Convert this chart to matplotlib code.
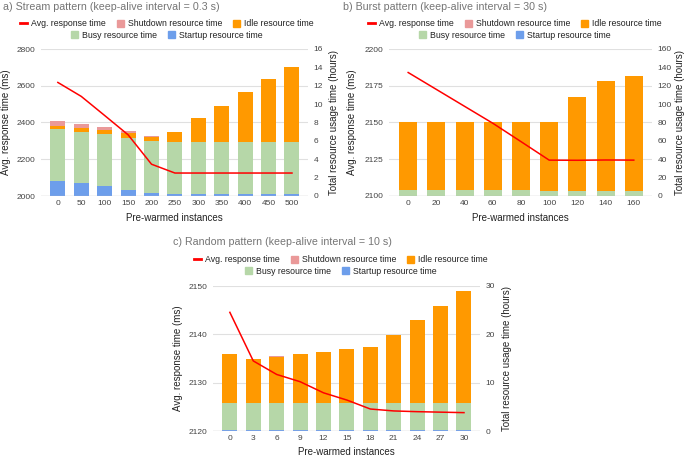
import matplotlib
matplotlib.use("Agg")
import matplotlib.pyplot as plt
from matplotlib.patches import Patch
from matplotlib.lines import Line2D
import numpy as np

plt.rcParams['font.family'] = ['Liberation Sans', 'DejaVu Sans']

# ---- data ----
a_x = ["0", "50", "100", "150", "200", "250", "300", "350", "400", "450", "500"]
a_resp = [2618, 2542, 2438, 2333, 2173, 2125, 2125, 2125, 2125, 2125, 2125]
a_startup = [1.64, 1.38, 1.09, 0.69, 0.33, 0.22, 0.22, 0.22, 0.22, 0.22, 0.22]
a_busy = [5.63, 5.60, 5.67, 5.67, 5.67, 5.67, 5.67, 5.67, 5.67, 5.67, 5.67]
a_idle = [0.40, 0.47, 0.37, 0.48, 0.47, 1.09, 2.55, 3.93, 5.38, 6.80, 8.18]
a_shutdown = [0.51, 0.44, 0.40, 0.25, 0.06, 0.0, 0.0, 0.0, 0.0, 0.0, 0.0]

b_x = ["0", "20", "40", "60", "80", "100", "120", "140", "160"]
b_resp = [2184, 2172.5, 2161, 2149.5, 2137, 2124.4, 2124.3, 2124.5, 2124.4]
b_startup = [0.2, 0.2, 0.2, 0.2, 0.2, 0.2, 0.2, 0.2, 0.2]
b_busy = [6.3, 6.3, 6.3, 6.3, 6.3, 5.3, 5.3, 5.3, 5.3]
b_idle = [73.9, 73.9, 73.9, 73.9, 73.9, 74.9, 102.5, 119.2, 125.0]
b_shutdown = [0.0, 0.0, 0.0, 0.0, 0.0, 0.0, 0.0, 0.0, 0.0]

c_x = ["0", "3", "6", "9", "12", "15", "18", "21", "24", "27", "30"]
c_resp = [2144.55, 2134.5, 2131.7, 2130.2, 2127.9, 2126.4, 2124.55, 2124.15, 2124.0, 2123.9, 2123.8]
c_startup = [0.25, 0.25, 0.25, 0.15, 0.15, 0.15, 0.15, 0.15, 0.15, 0.15, 0.15]
c_busy = [5.61, 5.61, 5.61, 5.71, 5.71, 5.71, 5.71, 5.71, 5.71, 5.71, 5.71]
c_idle = [10.0, 9.04, 9.54, 10.0, 10.44, 11.04, 11.54, 14.04, 17.1, 20.04, 23.04]
c_shutdown = [0.02, 0.02, 0.02, 0.02, 0.02, 0.02, 0.02, 0.02, 0.02, 0.02, 0.02]

C_RESP = '#ff0000'
C_SHUT = '#ea9999'
C_IDLE = '#ff9900'
C_BUSY = '#b6d7a8'
C_START = '#6d9eeb'
GRID = '#e0e0e0'
TXT = '#222222'
TICK = '#444444'
TITLE = '#757575'

fig = plt.figure(figsize=(6.85, 4.57), dpi=100)


def panel(rect, title, title_xy, leg_xy, cats, resp, st, bu, idl, sh,
          lticks, rticks, ylab_x, y2lab_x, xlab_y, xl):
    ax2 = fig.add_axes(rect)
    ax = ax2.twinx()
    ax.yaxis.tick_left()
    ax.yaxis.set_label_position('left')
    ax2.yaxis.tick_right()
    ax2.yaxis.set_label_position('right')
    ax.set_zorder(ax2.get_zorder() + 1)
    ax.patch.set_visible(False)

    x = np.arange(len(cats))
    w = 0.64
    st = np.array(st); bu = np.array(bu); idl = np.array(idl); sh = np.array(sh)
    ax2.bar(x, st, w, color=C_START, zorder=2)
    ax2.bar(x, bu, w, bottom=st, color=C_BUSY, zorder=2)
    ax2.bar(x, idl, w, bottom=st + bu, color=C_IDLE, zorder=2)
    ax2.bar(x, sh, w, bottom=st + bu + idl, color=C_SHUT, zorder=2)
    ax.plot(x, resp, color=C_RESP, lw=1.1, zorder=5)

    lo, hi = lticks[0], lticks[-1]
    ax.set_ylim(lo, hi)
    ax.set_yticks(lticks)
    ax2.set_ylim(rticks[0], rticks[-1])
    ax2.set_yticks(rticks)
    for t in lticks:
        ax2.axhline(rticks[0] + (t - lo) / (hi - lo) * (rticks[-1] - rticks[0]),
                    color=GRID, lw=0.8, zorder=0)
    ax2.set_xlim(-xl, len(cats) - 1 + xl * 0.95)
    ax2.set_xticks(x)
    ax2.set_xticklabels(cats)

    for a in (ax, ax2):
        for s in ('top', 'left', 'right', 'bottom'):
            a.spines[s].set_visible(False)
        a.tick_params(length=0, labelsize=6.0, colors=TICK, pad=4)
    ax2.axhline(rticks[0], color='#bdbdbd', lw=0.9, zorder=3)
    ax2.tick_params(axis='x', pad=3)

    ax.set_ylabel('Avg. response time (ms)', fontsize=7, color=TXT)
    ax2.set_ylabel('Total resource usage time (hours)', fontsize=7, color=TXT)
    ax2.set_xlabel('Pre-warmed instances', fontsize=7, color=TXT)
    ax.yaxis.set_label_coords(ylab_x, 0.5)
    ax2.yaxis.set_label_coords(y2lab_x, 0.5)
    ax2.xaxis.set_label_coords(0.5, xlab_y)

    fig.text(title_xy[0], title_xy[1], title, fontsize=7.7, color=TITLE,
             ha='left', va='center')

    h1 = [Line2D([], [], color=C_RESP, lw=2),
          Patch(color=C_SHUT), Patch(color=C_IDLE)]
    l1 = ['Avg. response time', 'Shutdown resource time', 'Idle resource time']
    h2 = [Patch(color=C_BUSY), Patch(color=C_START)]
    l2 = ['Busy resource time', 'Startup resource time']
    kw = dict(loc='center', frameon=False, fontsize=6.3, handlelength=0.8,
              handleheight=0.8, handletextpad=0.5, columnspacing=1.2,
              labelcolor=TXT, borderpad=0, borderaxespad=0)
    fig.legend(h1, l1, ncol=3, bbox_to_anchor=(leg_xy[0], leg_xy[1]), **kw)
    fig.legend(h2, l2, ncol=2, bbox_to_anchor=(leg_xy[0], leg_xy[2]), **kw)
    return ax, ax2


H = 457.0
W = 685.0

panel([41 / W, 1 - 196 / H, 267 / W, 147 / H],
      'a) Stream pattern (keep-alive interval = 0.3 s)', (3 / W, 1 - 7 / H),
      (167 / W, 1 - 24 / H, 1 - 35 / H),
      a_x, a_resp, a_startup, a_busy, a_idle, a_shutdown,
      [2000, 2200, 2400, 2600, 2800], [0, 2, 4, 6, 8, 10, 12, 14, 16],
      -0.114, 1.077, -0.115, 0.72)

panel([389 / W, 1 - 196 / H, 263 / W, 147 / H],
      'b) Burst pattern (keep-alive interval = 30 s)', (343 / W, 1 - 7 / H),
      (515 / W, 1 - 24 / H, 1 - 35 / H),
      b_x, b_resp, b_startup, b_busy, b_idle, b_shutdown,
      [2100, 2125, 2150, 2175, 2200], [0, 20, 40, 60, 80, 100, 120, 140, 160],
      -0.12, 1.088, -0.115, 0.68)

panel([213 / W, 1 - 431 / H, 267 / W, 145 / H],
      'c) Random pattern (keep-alive interval = 10 s)', (173 / W, 1 - 242 / H),
      (341 / W, 1 - 260 / H, 1 - 271 / H),
      c_x, c_resp, c_startup, c_busy, c_idle, c_shutdown,
      [2120, 2130, 2140, 2150], [0, 10, 20, 30],
      -0.114, 1.084, -0.112, 0.72)

fig.savefig('out.png', dpi=100)
